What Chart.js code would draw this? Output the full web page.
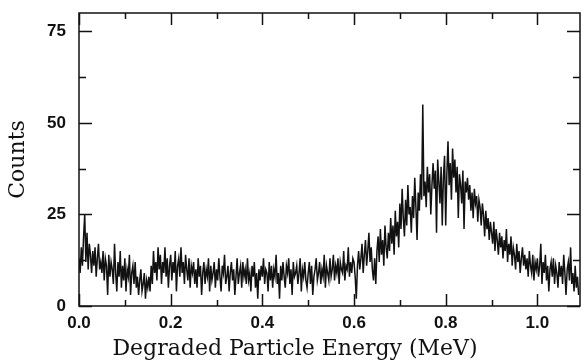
<!DOCTYPE html>
<html>
<head>
<meta charset="utf-8">
<script src="https://cdn.jsdelivr.net/npm/chart.js@4/dist/chart.umd.min.js"></script>
<style>
  html, body { margin: 0; padding: 0; background: #fff; }
  #wrap { width: 584px; height: 364px; }
</style>
</head>
<body>
<div id="wrap"><canvas id="spectrum"></canvas></div>
<script>
// Spectrum: counts per channel, channels 0.0025 MeV wide starting at 0
let channelWidth = 0.0025;
let counts = Array.of(
  13, 9, 16, 11, 19, 25, 12, 20, 10, 17,
  14, 9, 15, 11, 16, 8, 13, 17, 10, 12,
  9, 15, 7, 13, 11, 3, 14, 8, 12, 10,
  6, 17, 9, 4, 12, 8, 15, 5, 11, 7,
  13, 4, 10, 8, 14, 3, 9, 11, 6, 12,
  5, 8, 3, 7, 10, 4, 6, 9, 2, 7,
  5, 8, 4, 11, 6, 15, 9, 12, 7, 16,
  10, 14, 6, 12, 9, 16, 8, 13, 5, 11,
  14, 7, 12, 9, 15, 4, 11, 13, 8, 16,
  9, 12, 6, 14, 10, 7, 13, 5, 11, 9,
  12, 6, 10, 5, 13, 8, 11, 3, 9, 12,
  6, 10, 8, 13, 4, 11, 7, 9, 12, 5,
  10, 7, 13, 8, 4, 11, 9, 14, 6, 8,
  11, 4, 9, 12, 7, 10, 3, 8, 13, 6,
  9, 11, 5, 12, 8, 10, 6, 13, 7, 9,
  4, 11, 8, 12, 5, 9, 2, 10, 7, 11,
  8, 13, 6, 10, 9, 4, 12, 7, 11, 5,
  10, 8, 14, 6, 9, 2, 11, 7, 12, 8,
  5, 11, 9, 13, 6, 10, 3, 12, 8, 9,
  11, 6, 9, 13, 4, 10, 8, 12, 7, 5,
  9, 12, 6, 11, 3, 8, 10, 13, 7, 9,
  12, 6, 10, 8, 14, 5, 11, 9, 7, 13,
  8, 10, 14, 7, 11, 9, 13, 6, 12, 10,
  9, 15, 7, 11, 10, 16, 8, 12, 9, 13,
  12, 8, 2, 11, 15, 10, 13, 17, 9, 14,
  18, 11, 15, 20, 12, 16, 10, 7, 13, 6,
  15, 19, 12, 21, 14, 18, 11, 22, 16, 13,
  20, 15, 24, 17, 22, 14, 26, 19, 23, 16,
  28, 21, 32, 24, 19, 29, 22, 33, 25, 27,
  20, 30, 24, 35, 27, 18, 31, 26, 36, 29,
  55, 30, 34, 27, 38, 31, 36, 25, 33, 39,
  32, 37, 20, 40, 34, 28, 38, 22, 35, 41,
  22, 36, 45, 33, 39, 29, 43, 35, 40, 31,
  38, 24, 36, 33, 28, 37, 21, 34, 31, 35,
  29, 33, 26, 31, 24, 32, 28, 30, 23, 29,
  27, 22, 28, 25, 19, 26, 21, 24, 18, 23,
  20, 17, 23, 15, 21, 18, 14, 20, 16, 19,
  13, 18, 15, 21, 12, 17, 14, 19, 11, 16,
  14, 10, 17, 12, 15, 9, 13, 16, 11, 14,
  10, 13, 8, 15, 11, 9, 14, 7, 12, 10,
  13, 8, 11, 17, 6, 12, 9, 14, 7, 11,
  4, 10, 12, 8, 13, 6, 11, 9, 5, 12,
  8, 11, 6, 14, 9, 3, 10, 12, 7, 16,
  6, 9, 4, 11, 5, 8, 3
);

let energyTicks = Array.of(0, 0.1, 0.2, 0.3, 0.4, 0.5, 0.6, 0.7, 0.8, 0.9, 1.0);
let energyLabels = Array.of('0.0', '', '0.2', '', '0.4', '', '0.6', '', '0.8', '', '1.0');
let countTicks = Array.of(0, 12.5, 25, 37.5, 50, 62.5, 75);
let countLabels = Array.of('0', '', '25', '', '50', '', '75');

let points = counts.map((c, i) => ({ x: i * channelWidth, y: c }));

const titleFamily = 'DejaVu Serif';

// boxed frame with inward ticks on all four sides, plus the energy axis caption
const frameTicks = {
  id: 'frameTicks',
  afterDraw(chart) {
    const { ctx, chartArea: a, scales: { x, y } } = chart;
    ctx.save();
    ctx.strokeStyle = '#111';
    ctx.lineWidth = 1.5;
    ctx.strokeRect(a.left, a.top, a.right - a.left, a.bottom - a.top);
    ctx.beginPath();
    energyTicks.forEach((v, i) => {
      const px = Math.round(x.getPixelForValue(v)) + 0.5;
      const len = energyLabels[i] ? 12 : 6;
      ctx.moveTo(px, a.bottom); ctx.lineTo(px, a.bottom - len);
      ctx.moveTo(px, a.top); ctx.lineTo(px, a.top + len);
    });
    countTicks.forEach((v, i) => {
      const py = Math.round(y.getPixelForValue(v)) + 0.5;
      const len = countLabels[i] ? 13 : 7;
      ctx.moveTo(a.left, py); ctx.lineTo(a.left + len, py);
      ctx.moveTo(a.right, py); ctx.lineTo(a.right - len, py);
    });
    ctx.stroke();

    ctx.fillStyle = '#111';
    ctx.font = '22px "' + titleFamily + '"';
    ctx.textAlign = 'center';
    ctx.textBaseline = 'middle';
    ctx.fillText('Degraded Particle Energy (MeV)', 295, 349);
    ctx.restore();
  }
};

const tickFont = { family: 'Liberation Sans', size: 17, weight: 'bold' };

new Chart(document.getElementById('spectrum').getContext('2d'), {
  type: 'line',
  data: {
    datasets: [{
      data: points,
      borderColor: '#111',
      borderWidth: 1.5,
      pointRadius: 0,
      tension: 0
    }]
  },
  options: {
    responsive: true,
    maintainAspectRatio: false,
    animation: false,
    layout: { padding: { top: 13, right: 4, left: 0, bottom: 0 } },
    plugins: { legend: { display: false }, tooltip: { enabled: false } },
    scales: {
      x: {
        type: 'linear',
        min: 0,
        max: 1.093,
        afterBuildTicks: s => { s.ticks = energyTicks.map(v => ({ value: v })); },
        afterFit: s => { s.height = 58; s.paddingLeft = 0; s.paddingRight = 0; },
        grid: { display: false, drawTicks: false },
        border: { display: false },
        ticks: {
          autoSkip: false,
          maxRotation: 0,
          padding: 7,
          color: '#111',
          font: tickFont,
          callback: (v, i) => energyLabels[i]
        },
        title: { display: false }
      },
      y: {
        min: 0,
        max: 80,
        afterBuildTicks: s => { s.ticks = countTicks.map(v => ({ value: v })); },
        afterFit: s => { s.width = 79; s.paddingTop = 0; s.paddingBottom = 0; },
        grid: { display: false, drawTicks: false },
        border: { display: false },
        ticks: {
          autoSkip: false,
          padding: 13,
          color: '#111',
          font: tickFont,
          callback: (v, i) => countLabels[i]
        },
        title: {
          display: true,
          text: 'Counts',
          color: '#111',
          font: { family: titleFamily, size: 22 },
          padding: { top: 5, bottom: 0 }
        }
      }
    }
  },
  plugins: [frameTicks]
});
</script>
</body>
</html>
